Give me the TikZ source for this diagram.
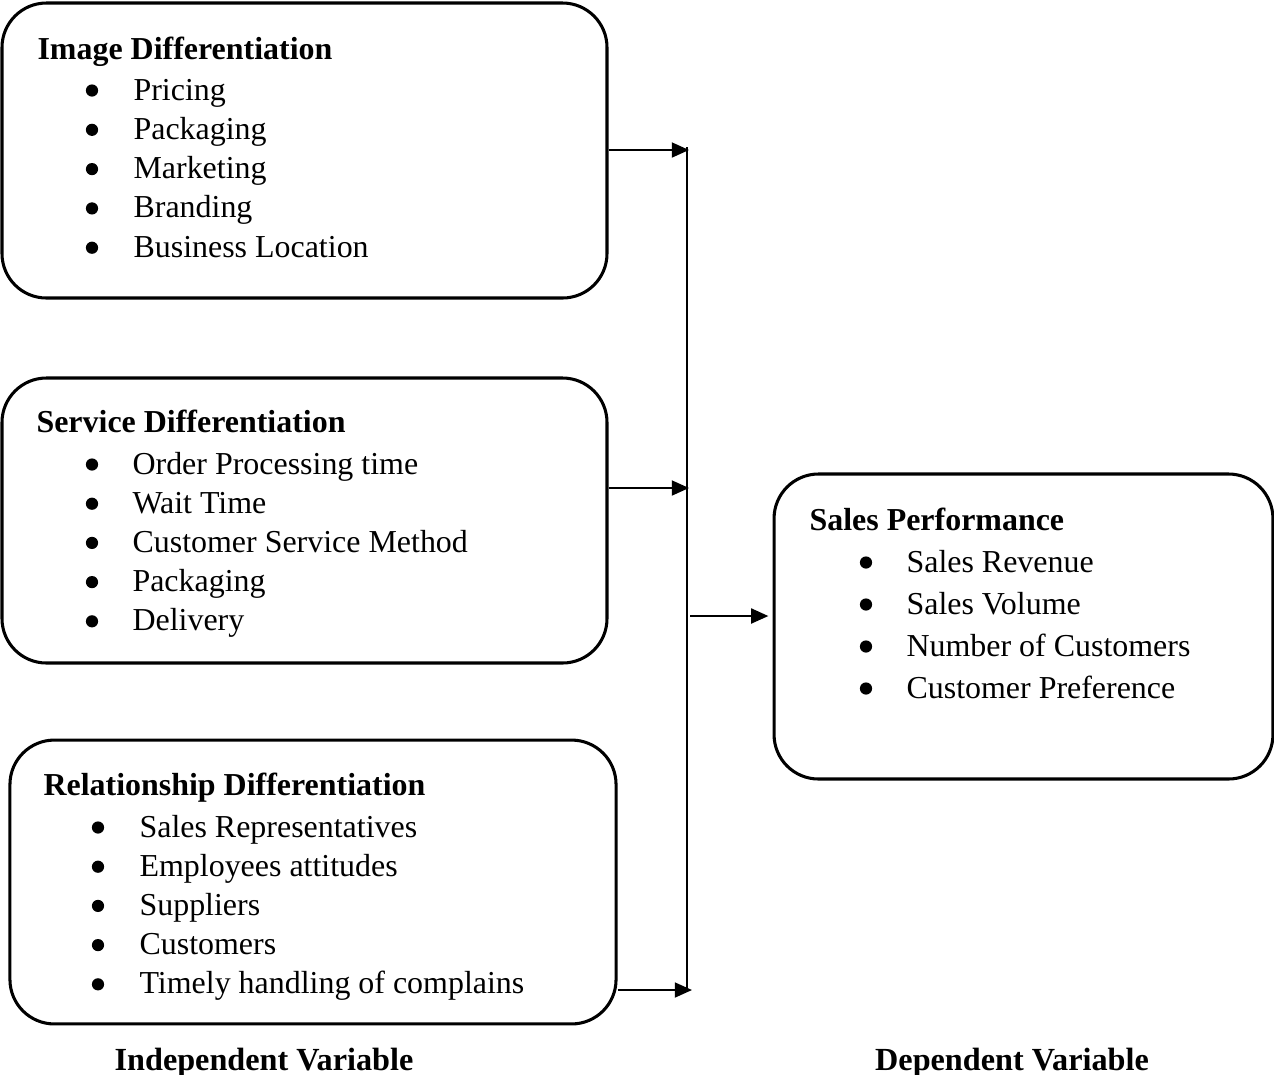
\documentclass[tikz,border=0pt]{standalone}
\usepackage{fontspec}
\setmainfont{Liberation Serif}
\usetikzlibrary{arrows.meta}
\begin{document}
\begin{tikzpicture}[x=0.36pt,y=-0.36pt,
  box/.style={draw,line width=1.1pt,rounded corners=16pt,inner sep=0pt},
  head/.style={anchor=base west,inner sep=0pt,font=\fontsize{11.5}{14}\selectfont\bfseries},
  entry/.style={anchor=base west,inner sep=0pt,font=\fontsize{11.5}{14}\selectfont},
  label/.style={anchor=base,inner sep=0pt,font=\fontsize{11.6}{14}\selectfont\bfseries},
  arr/.style={line width=0.7pt,-{Triangle[length=6.2pt,width=5.4pt]}}]
\useasboundingbox (0,0) rectangle (1274,1074);
% boxes
\node[box,minimum width=217.8pt,minimum height=106.2pt] (img) at (304.5,150.5) {};
\node[box,minimum width=217.8pt,minimum height=102.6pt] (svc) at (304.5,520.5) {};
\node[box,minimum width=218.2pt,minimum height=102.2pt] (rel) at (313,882) {};
\node[box,minimum width=179.6pt,minimum height=109.8pt] (sales) at (1023.5,626.5) {};
% box texts
\node[head] (imgh) at (37,59) {Image Differentiation};
\foreach \t [count=\i from 0, evaluate=\i as \yy using 100+39.3*\i] in
  {Pricing,Packaging,Marketing,Branding,Business Location}{
  \fill (92,\yy-9.5) circle (2.2pt);
  \node[entry] (img\i) at (133,\yy) {\t};
}
\node[head] (svch) at (36,432) {Service Differentiation};
\foreach \t [count=\i from 0, evaluate=\i as \yy using 474+39.2*\i] in
  {Order Processing time,Wait Time,Customer Service Method,Packaging,Delivery}{
  \fill (92,\yy-9.5) circle (2.2pt);
  \node[entry] (svc\i) at (132,\yy) {\t};
}
\node[head] (relh) at (43,795) {Relationship Differentiation};
\foreach \t [count=\i from 0, evaluate=\i as \yy using 837+39.2*\i] in
  {Sales Representatives,Employees attitudes,Suppliers,Customers,Timely handling of complains}{
  \fill (98,\yy-9.5) circle (2.2pt);
  \node[entry] (rel\i) at (139,\yy) {\t};
}
\node[head] (salesh) at (809,530) {Sales Performance};
\foreach \t [count=\i from 0, evaluate=\i as \yy using 572+42*\i] in
  {Sales Revenue,Sales Volume,Number of Customers,Customer Preference}{
  \fill (866,\yy-9.5) circle (2.2pt);
  \node[entry] (sales\i) at (906,\yy) {\t};
}
% bus and arrows
\coordinate (b1) at (689,150);
\coordinate (b2) at (689,488);
\coordinate (b3) at (692,990);
\coordinate (mid) at (690,616);
\draw[line width=0.7pt] (687,147) -- (687,992);
\draw[arr] (img.east |- b1) -- (b1);
\draw[arr] (svc.east |- b2) -- (b2);
\draw[arr] (rel.east |- b3) -- (b3);
\draw[arr,shorten >=1.5pt] (mid) -- (mid -| sales.west);
% captions
\node[label] (indep) at (264,1070) {Independent Variable};
\node[label] (dep) at (1012,1070) {Dependent Variable};
\end{tikzpicture}
\end{document}
